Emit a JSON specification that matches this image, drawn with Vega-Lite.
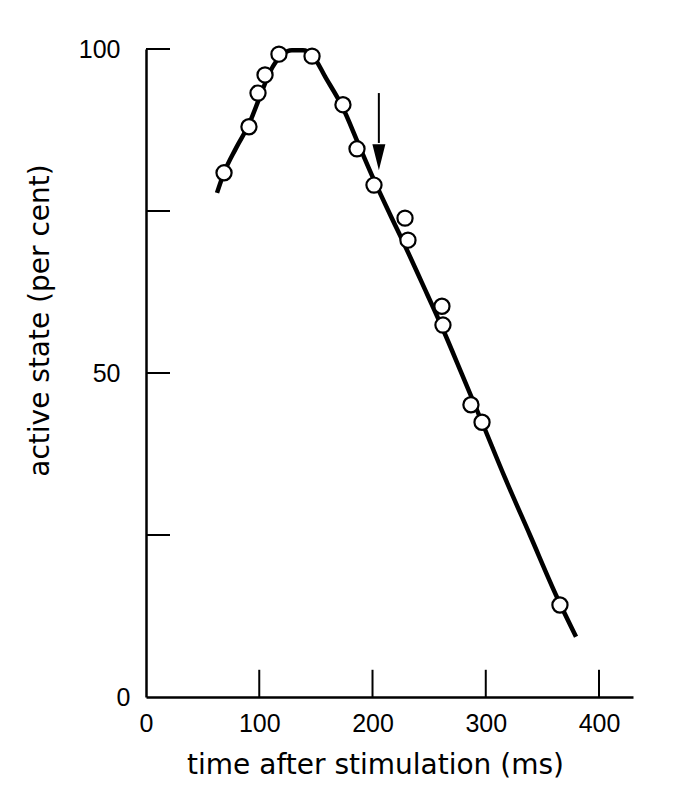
{
  "$schema": "https://vega.github.io/schema/vega-lite/v6.json",
  "width": 487,
  "height": 648,
  "autosize": {"type": "none"},
  "padding": {"left": 146, "top": 49, "right": 51, "bottom": 101},
  "background": "white",
  "config": {
    "view": {"stroke": null},
    "axis": {"grid": false, "domainColor": "black", "tickColor": "black", "labelColor": "black", "titleColor": "black"}
  },
  "datasets": {
    "curve": [
      {"t": 62.7, "y": 77.8}, {"t": 68.9, "y": 80.9}, {"t": 79.5, "y": 84.7}, {"t": 90.9, "y": 88.4},
      {"t": 100.7, "y": 92.7}, {"t": 109.5, "y": 96.5}, {"t": 120.1, "y": 99.1}, {"t": 128.9, "y": 99.8},
      {"t": 138.6, "y": 99.8}, {"t": 146.6, "y": 99.1}, {"t": 158.9, "y": 95.5}, {"t": 173.9, "y": 90.9},
      {"t": 187.2, "y": 85.5}, {"t": 201.3, "y": 79.8}, {"t": 215.4, "y": 74.5}, {"t": 229.6, "y": 69.3},
      {"t": 243.7, "y": 63.9}, {"t": 261.3, "y": 57.1}, {"t": 279.0, "y": 49.8}, {"t": 296.7, "y": 42.4},
      {"t": 317.0, "y": 33.8}, {"t": 339.0, "y": 25.0}, {"t": 362.9, "y": 15.4}, {"t": 379.7, "y": 9.3}
    ],
    "obs": [
      {"t": 68.9, "y": 80.9}, {"t": 90.9, "y": 88.0}, {"t": 98.9, "y": 93.2}, {"t": 105.1, "y": 96.0},
      {"t": 117.4, "y": 99.2}, {"t": 146.6, "y": 98.9}, {"t": 173.9, "y": 91.4}, {"t": 186.3, "y": 84.6},
      {"t": 201.3, "y": 79.0}, {"t": 228.7, "y": 73.9}, {"t": 231.3, "y": 70.5}, {"t": 261.3, "y": 60.3},
      {"t": 262.2, "y": 57.4}, {"t": 286.9, "y": 45.1}, {"t": 296.7, "y": 42.4}, {"t": 365.5, "y": 14.2}
    ],
    "arrow": [{"t": 205.6, "y": 93.2, "y2": 85.5, "head": 83.3}],
    "xticks": [
      {"t": 100, "y": 0, "y2": 4.2}, {"t": 200, "y": 0, "y2": 4.2},
      {"t": 300, "y": 0, "y2": 4.2}, {"t": 400, "y": 0, "y2": 4.2}
    ],
    "yticks": [
      {"t": 0, "t2": 21.2, "y": 25}, {"t": 0, "t2": 21.2, "y": 50},
      {"t": 0, "t2": 21.2, "y": 75}, {"t": 0, "t2": 21.2, "y": 100}
    ]
  },
  "layer": [
    {
      "data": {"name": "curve"},
      "mark": {"type": "line", "color": "black", "strokeWidth": 4.5, "interpolate": "monotone", "strokeCap": "butt"},
      "encoding": {
        "x": {
          "field": "t", "type": "quantitative",
          "scale": {"domain": [0, 430], "nice": false, "zero": false},
          "axis": {
            "title": "time after stimulation (ms)",
            "values": [0, 100, 200, 300, 400],
            "ticks": false, "domainWidth": 2.5,
            "labelFont": "Liberation Sans", "labelFontSize": 25, "labelPadding": 14,
            "labelFlush": false, "labelOverlap": false,
            "titleFont": "DejaVu Sans", "titleFontSize": 28, "titleFontWeight": "normal",
            "titleX": 229, "titleY": 68, "titleBaseline": "middle", "titleAlign": "center"
          }
        },
        "y": {
          "field": "y", "type": "quantitative",
          "scale": {"domain": [0, 100], "nice": false},
          "axis": {
            "title": "active state (per cent)",
            "values": [0, 50, 100],
            "ticks": false, "domainWidth": 2.5,
            "labelFont": "Liberation Sans", "labelFontSize": 25,
            "labelPadding": {"condition": {"test": "datum.value === 0", "value": 16}, "value": 26},
            "labelFlush": false, "labelOverlap": false,
            "titleFont": "DejaVu Sans", "titleFontSize": 28, "titleFontWeight": "normal",
            "titleAngle": 270, "titleX": -106, "titleY": 271, "titleBaseline": "middle", "titleAlign": "center"
          }
        }
      }
    },
    {
      "data": {"name": "xticks"},
      "mark": {"type": "rule", "color": "black", "strokeWidth": 2},
      "encoding": {
        "x": {"field": "t", "type": "quantitative", "title": "time after stimulation (ms)"},
        "y": {"field": "y", "type": "quantitative", "title": "active state (per cent)"},
        "y2": {"field": "y2"}
      }
    },
    {
      "data": {"name": "yticks"},
      "mark": {"type": "rule", "color": "black", "strokeWidth": 2},
      "encoding": {
        "x": {"field": "t", "type": "quantitative", "title": "time after stimulation (ms)"},
        "x2": {"field": "t2"},
        "y": {"field": "y", "type": "quantitative", "title": "active state (per cent)"}
      }
    },
    {
      "data": {"name": "obs"},
      "mark": {"type": "point", "shape": "circle", "size": 230, "filled": true, "fill": "white", "stroke": "black", "strokeWidth": 2.2, "opacity": 1},
      "encoding": {
        "x": {"field": "t", "type": "quantitative", "title": "time after stimulation (ms)"},
        "y": {"field": "y", "type": "quantitative", "title": "active state (per cent)"}
      }
    },
    {
      "data": {"name": "arrow"},
      "mark": {"type": "rule", "color": "black", "strokeWidth": 2},
      "encoding": {
        "x": {"field": "t", "type": "quantitative", "title": "time after stimulation (ms)"},
        "y": {"field": "y", "type": "quantitative", "title": "active state (per cent)"},
        "y2": {"field": "y2"}
      }
    },
    {
      "data": {"name": "arrow"},
      "mark": {"type": "point", "shape": "M-0.5,-1L0.5,-1L0,1Z", "size": 676, "filled": true, "color": "black", "opacity": 1},
      "encoding": {
        "x": {"field": "t", "type": "quantitative", "title": "time after stimulation (ms)"},
        "y": {"field": "head", "type": "quantitative", "title": "active state (per cent)"}
      }
    }
  ]
}
